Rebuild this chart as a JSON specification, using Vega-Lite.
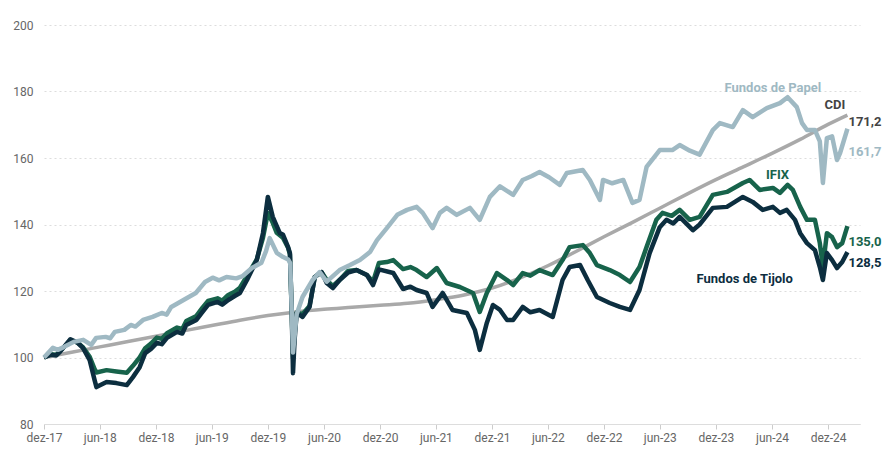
{
  "$schema": "https://vega.github.io/schema/vega-lite/v6.json",
  "width": 816,
  "height": 399,
  "autosize": {"type": "none"},
  "padding": {"left": 44, "top": 25, "right": 36, "bottom": 36},
  "background": "white",
  "config": {
    "view": {"stroke": null},
    "font": "Roboto"
  },
  "datasets": {
    "series": [
      {"d": "2017-12-01", "s": "CDI", "v": 100},
      {"d": "2018-03-01", "s": "CDI", "v": 101.6},
      {"d": "2018-06-01", "s": "CDI", "v": 103.2},
      {"d": "2018-09-01", "s": "CDI", "v": 104.8},
      {"d": "2018-12-01", "s": "CDI", "v": 106.4},
      {"d": "2019-03-01", "s": "CDI", "v": 108.0},
      {"d": "2019-06-01", "s": "CDI", "v": 109.6},
      {"d": "2019-09-01", "s": "CDI", "v": 111.2},
      {"d": "2019-12-01", "s": "CDI", "v": 112.6},
      {"d": "2020-03-01", "s": "CDI", "v": 113.7},
      {"d": "2020-06-01", "s": "CDI", "v": 114.5},
      {"d": "2020-09-01", "s": "CDI", "v": 115.1},
      {"d": "2020-12-01", "s": "CDI", "v": 115.7},
      {"d": "2021-03-01", "s": "CDI", "v": 116.3},
      {"d": "2021-06-01", "s": "CDI", "v": 117.4},
      {"d": "2021-09-01", "s": "CDI", "v": 118.8},
      {"d": "2021-12-01", "s": "CDI", "v": 120.9},
      {"d": "2022-03-01", "s": "CDI", "v": 123.9},
      {"d": "2022-06-01", "s": "CDI", "v": 127.6},
      {"d": "2022-09-01", "s": "CDI", "v": 131.9},
      {"d": "2022-12-01", "s": "CDI", "v": 136.3},
      {"d": "2023-03-01", "s": "CDI", "v": 140.5},
      {"d": "2023-06-01", "s": "CDI", "v": 144.9},
      {"d": "2023-09-01", "s": "CDI", "v": 149.3},
      {"d": "2023-12-01", "s": "CDI", "v": 153.5},
      {"d": "2024-03-01", "s": "CDI", "v": 157.4},
      {"d": "2024-06-01", "s": "CDI", "v": 161.4},
      {"d": "2024-09-01", "s": "CDI", "v": 165.6},
      {"d": "2024-12-01", "s": "CDI", "v": 170.1},
      {"d": "2025-02-02", "s": "CDI", "v": 172.9},

      {"d": "2017-12-01", "s": "IFIX", "v": 100},
      {"d": "2017-12-22", "s": "IFIX", "v": 101},
      {"d": "2018-01-10", "s": "IFIX", "v": 100.8},
      {"d": "2018-01-22", "s": "IFIX", "v": 101.9},
      {"d": "2018-02-25", "s": "IFIX", "v": 105.2},
      {"d": "2018-03-20", "s": "IFIX", "v": 104.5},
      {"d": "2018-04-06", "s": "IFIX", "v": 103.2},
      {"d": "2018-04-29", "s": "IFIX", "v": 100.2},
      {"d": "2018-05-15", "s": "IFIX", "v": 96.5},
      {"d": "2018-05-21", "s": "IFIX", "v": 95.5},
      {"d": "2018-06-23", "s": "IFIX", "v": 96.2},
      {"d": "2018-07-25", "s": "IFIX", "v": 95.8},
      {"d": "2018-08-28", "s": "IFIX", "v": 95.4},
      {"d": "2018-09-17", "s": "IFIX", "v": 97.5},
      {"d": "2018-10-09", "s": "IFIX", "v": 100},
      {"d": "2018-10-27", "s": "IFIX", "v": 102.8},
      {"d": "2018-11-15", "s": "IFIX", "v": 104.2},
      {"d": "2018-12-04", "s": "IFIX", "v": 106},
      {"d": "2018-12-20", "s": "IFIX", "v": 105.6},
      {"d": "2019-01-06", "s": "IFIX", "v": 107.3},
      {"d": "2019-02-08", "s": "IFIX", "v": 109},
      {"d": "2019-02-25", "s": "IFIX", "v": 108.6},
      {"d": "2019-03-10", "s": "IFIX", "v": 111},
      {"d": "2019-04-12", "s": "IFIX", "v": 112.5},
      {"d": "2019-05-02", "s": "IFIX", "v": 115},
      {"d": "2019-05-20", "s": "IFIX", "v": 117},
      {"d": "2019-06-20", "s": "IFIX", "v": 117.8},
      {"d": "2019-07-05", "s": "IFIX", "v": 117.1},
      {"d": "2019-07-25", "s": "IFIX", "v": 118.8},
      {"d": "2019-08-15", "s": "IFIX", "v": 119.8},
      {"d": "2019-09-01", "s": "IFIX", "v": 121},
      {"d": "2019-09-24", "s": "IFIX", "v": 124.5},
      {"d": "2019-10-26", "s": "IFIX", "v": 129.5},
      {"d": "2019-11-15", "s": "IFIX", "v": 136},
      {"d": "2019-12-01", "s": "IFIX", "v": 143.5},
      {"d": "2019-12-17", "s": "IFIX", "v": 140.5},
      {"d": "2019-12-30", "s": "IFIX", "v": 137.5},
      {"d": "2020-01-19", "s": "IFIX", "v": 136},
      {"d": "2020-02-05", "s": "IFIX", "v": 133},
      {"d": "2020-02-11", "s": "IFIX", "v": 131},
      {"d": "2020-02-17", "s": "IFIX", "v": 113},
      {"d": "2020-02-21", "s": "IFIX", "v": 100},
      {"d": "2020-02-26", "s": "IFIX", "v": 107},
      {"d": "2020-03-04", "s": "IFIX", "v": 113.5},
      {"d": "2020-03-23", "s": "IFIX", "v": 113},
      {"d": "2020-04-15", "s": "IFIX", "v": 115.5},
      {"d": "2020-05-02", "s": "IFIX", "v": 124.2},
      {"d": "2020-05-24", "s": "IFIX", "v": 125.7},
      {"d": "2020-06-10", "s": "IFIX", "v": 123.3},
      {"d": "2020-06-30", "s": "IFIX", "v": 121.5},
      {"d": "2020-07-22", "s": "IFIX", "v": 123.3},
      {"d": "2020-08-18", "s": "IFIX", "v": 126},
      {"d": "2020-09-15", "s": "IFIX", "v": 126.3},
      {"d": "2020-10-19", "s": "IFIX", "v": 124.8},
      {"d": "2020-11-08", "s": "IFIX", "v": 122.8},
      {"d": "2020-11-27", "s": "IFIX", "v": 128.4},
      {"d": "2020-12-23", "s": "IFIX", "v": 128.7},
      {"d": "2021-01-13", "s": "IFIX", "v": 129.3},
      {"d": "2021-02-14", "s": "IFIX", "v": 126.6},
      {"d": "2021-03-10", "s": "IFIX", "v": 127.2},
      {"d": "2021-03-30", "s": "IFIX", "v": 126.3},
      {"d": "2021-05-02", "s": "IFIX", "v": 124.2},
      {"d": "2021-06-04", "s": "IFIX", "v": 126.9},
      {"d": "2021-07-06", "s": "IFIX", "v": 122.4},
      {"d": "2021-08-18", "s": "IFIX", "v": 121.2},
      {"d": "2021-09-30", "s": "IFIX", "v": 119.4},
      {"d": "2021-10-22", "s": "IFIX", "v": 113.7},
      {"d": "2021-11-14", "s": "IFIX", "v": 119.4},
      {"d": "2021-12-17", "s": "IFIX", "v": 125.4},
      {"d": "2022-01-19", "s": "IFIX", "v": 123.3},
      {"d": "2022-02-08", "s": "IFIX", "v": 121.8},
      {"d": "2022-03-11", "s": "IFIX", "v": 125.4},
      {"d": "2022-04-05", "s": "IFIX", "v": 124.6},
      {"d": "2022-05-05", "s": "IFIX", "v": 126.3},
      {"d": "2022-06-17", "s": "IFIX", "v": 124.8},
      {"d": "2022-07-19", "s": "IFIX", "v": 129.3},
      {"d": "2022-08-11", "s": "IFIX", "v": 133.2},
      {"d": "2022-09-23", "s": "IFIX", "v": 133.8},
      {"d": "2022-10-16", "s": "IFIX", "v": 131.4},
      {"d": "2022-11-08", "s": "IFIX", "v": 127.8},
      {"d": "2022-12-20", "s": "IFIX", "v": 126.3},
      {"d": "2023-01-22", "s": "IFIX", "v": 124.8},
      {"d": "2023-02-24", "s": "IFIX", "v": 122.7},
      {"d": "2023-03-27", "s": "IFIX", "v": 127.2},
      {"d": "2023-04-19", "s": "IFIX", "v": 133.2},
      {"d": "2023-05-21", "s": "IFIX", "v": 141.4},
      {"d": "2023-06-10", "s": "IFIX", "v": 143.5},
      {"d": "2023-07-10", "s": "IFIX", "v": 142.6},
      {"d": "2023-08-05", "s": "IFIX", "v": 144.4},
      {"d": "2023-09-07", "s": "IFIX", "v": 141.4},
      {"d": "2023-10-09", "s": "IFIX", "v": 142.3},
      {"d": "2023-11-21", "s": "IFIX", "v": 148.9},
      {"d": "2024-01-06", "s": "IFIX", "v": 149.8},
      {"d": "2024-02-27", "s": "IFIX", "v": 152.5},
      {"d": "2024-03-20", "s": "IFIX", "v": 153.4},
      {"d": "2024-04-22", "s": "IFIX", "v": 150.4},
      {"d": "2024-06-04", "s": "IFIX", "v": 151},
      {"d": "2024-06-27", "s": "IFIX", "v": 149.5},
      {"d": "2024-07-22", "s": "IFIX", "v": 151.9},
      {"d": "2024-08-08", "s": "IFIX", "v": 150.4},
      {"d": "2024-09-01", "s": "IFIX", "v": 145.3},
      {"d": "2024-09-23", "s": "IFIX", "v": 141.4},
      {"d": "2024-10-19", "s": "IFIX", "v": 141.4},
      {"d": "2024-11-04", "s": "IFIX", "v": 134.4},
      {"d": "2024-11-14", "s": "IFIX", "v": 127.2},
      {"d": "2024-11-27", "s": "IFIX", "v": 137.4},
      {"d": "2024-12-14", "s": "IFIX", "v": 136.2},
      {"d": "2024-12-30", "s": "IFIX", "v": 133.2},
      {"d": "2025-01-16", "s": "IFIX", "v": 134.4},
      {"d": "2025-02-02", "s": "IFIX", "v": 139.5},

      {"d": "2017-12-01", "s": "Tijolo", "v": 100},
      {"d": "2017-12-22", "s": "Tijolo", "v": 100.8},
      {"d": "2018-01-10", "s": "Tijolo", "v": 100.6},
      {"d": "2018-01-22", "s": "Tijolo", "v": 101.7},
      {"d": "2018-02-25", "s": "Tijolo", "v": 105.5},
      {"d": "2018-03-20", "s": "Tijolo", "v": 104.5},
      {"d": "2018-04-06", "s": "Tijolo", "v": 103},
      {"d": "2018-04-29", "s": "Tijolo", "v": 99.2},
      {"d": "2018-05-15", "s": "Tijolo", "v": 93.2},
      {"d": "2018-05-21", "s": "Tijolo", "v": 91.1},
      {"d": "2018-06-23", "s": "Tijolo", "v": 92.6},
      {"d": "2018-07-25", "s": "Tijolo", "v": 92.3},
      {"d": "2018-08-28", "s": "Tijolo", "v": 91.7},
      {"d": "2018-09-17", "s": "Tijolo", "v": 94.1},
      {"d": "2018-10-09", "s": "Tijolo", "v": 97.1},
      {"d": "2018-10-27", "s": "Tijolo", "v": 101.3},
      {"d": "2018-11-15", "s": "Tijolo", "v": 102.6},
      {"d": "2018-12-04", "s": "Tijolo", "v": 104.4},
      {"d": "2018-12-20", "s": "Tijolo", "v": 104},
      {"d": "2019-01-06", "s": "Tijolo", "v": 105.9},
      {"d": "2019-02-08", "s": "Tijolo", "v": 107.7},
      {"d": "2019-02-25", "s": "Tijolo", "v": 107.2},
      {"d": "2019-03-10", "s": "Tijolo", "v": 109.8},
      {"d": "2019-04-12", "s": "Tijolo", "v": 111.3},
      {"d": "2019-05-02", "s": "Tijolo", "v": 113.7},
      {"d": "2019-05-20", "s": "Tijolo", "v": 115.8},
      {"d": "2019-06-20", "s": "Tijolo", "v": 116.7},
      {"d": "2019-07-05", "s": "Tijolo", "v": 115.9},
      {"d": "2019-07-25", "s": "Tijolo", "v": 117.3},
      {"d": "2019-08-15", "s": "Tijolo", "v": 118.5},
      {"d": "2019-09-01", "s": "Tijolo", "v": 119.4},
      {"d": "2019-09-24", "s": "Tijolo", "v": 123.3},
      {"d": "2019-10-26", "s": "Tijolo", "v": 129.3},
      {"d": "2019-11-15", "s": "Tijolo", "v": 137.4},
      {"d": "2019-12-01", "s": "Tijolo", "v": 148.3},
      {"d": "2019-12-17", "s": "Tijolo", "v": 142.3},
      {"d": "2020-01-09", "s": "Tijolo", "v": 137.4},
      {"d": "2020-01-19", "s": "Tijolo", "v": 137},
      {"d": "2020-02-05", "s": "Tijolo", "v": 133.2},
      {"d": "2020-02-11", "s": "Tijolo", "v": 131.4},
      {"d": "2020-02-17", "s": "Tijolo", "v": 113.4},
      {"d": "2020-02-21", "s": "Tijolo", "v": 95.3},
      {"d": "2020-02-26", "s": "Tijolo", "v": 105},
      {"d": "2020-03-04", "s": "Tijolo", "v": 113.4},
      {"d": "2020-03-23", "s": "Tijolo", "v": 112.2},
      {"d": "2020-04-15", "s": "Tijolo", "v": 115.2},
      {"d": "2020-05-02", "s": "Tijolo", "v": 124.2},
      {"d": "2020-05-24", "s": "Tijolo", "v": 125.7},
      {"d": "2020-06-10", "s": "Tijolo", "v": 122.4},
      {"d": "2020-06-30", "s": "Tijolo", "v": 120.9},
      {"d": "2020-07-22", "s": "Tijolo", "v": 123.3},
      {"d": "2020-08-18", "s": "Tijolo", "v": 125.5},
      {"d": "2020-09-15", "s": "Tijolo", "v": 126.3},
      {"d": "2020-10-19", "s": "Tijolo", "v": 124.8},
      {"d": "2020-11-08", "s": "Tijolo", "v": 121.8},
      {"d": "2020-11-27", "s": "Tijolo", "v": 126.5},
      {"d": "2021-01-13", "s": "Tijolo", "v": 125.4},
      {"d": "2021-02-14", "s": "Tijolo", "v": 120.6},
      {"d": "2021-03-10", "s": "Tijolo", "v": 121.3},
      {"d": "2021-03-30", "s": "Tijolo", "v": 120.3},
      {"d": "2021-05-02", "s": "Tijolo", "v": 119.4},
      {"d": "2021-05-21", "s": "Tijolo", "v": 115.2},
      {"d": "2021-06-23", "s": "Tijolo", "v": 119.4},
      {"d": "2021-07-25", "s": "Tijolo", "v": 114.3},
      {"d": "2021-09-10", "s": "Tijolo", "v": 113.4},
      {"d": "2021-10-06", "s": "Tijolo", "v": 108.3},
      {"d": "2021-10-22", "s": "Tijolo", "v": 102.3},
      {"d": "2021-11-14", "s": "Tijolo", "v": 110.4},
      {"d": "2021-12-04", "s": "Tijolo", "v": 115.8},
      {"d": "2021-12-27", "s": "Tijolo", "v": 114.3},
      {"d": "2022-01-19", "s": "Tijolo", "v": 111.3},
      {"d": "2022-02-08", "s": "Tijolo", "v": 111.3},
      {"d": "2022-03-11", "s": "Tijolo", "v": 115.2},
      {"d": "2022-04-05", "s": "Tijolo", "v": 113.6},
      {"d": "2022-05-05", "s": "Tijolo", "v": 114.3},
      {"d": "2022-06-17", "s": "Tijolo", "v": 112.2},
      {"d": "2022-07-19", "s": "Tijolo", "v": 123.3},
      {"d": "2022-08-11", "s": "Tijolo", "v": 127.2},
      {"d": "2022-09-14", "s": "Tijolo", "v": 127.8},
      {"d": "2022-10-09", "s": "Tijolo", "v": 123.3},
      {"d": "2022-11-08", "s": "Tijolo", "v": 118.2},
      {"d": "2022-12-20", "s": "Tijolo", "v": 116.4},
      {"d": "2023-01-22", "s": "Tijolo", "v": 115.2},
      {"d": "2023-02-24", "s": "Tijolo", "v": 114.3},
      {"d": "2023-03-27", "s": "Tijolo", "v": 120.3},
      {"d": "2023-04-29", "s": "Tijolo", "v": 131.4},
      {"d": "2023-06-01", "s": "Tijolo", "v": 139.2},
      {"d": "2023-06-23", "s": "Tijolo", "v": 141.4},
      {"d": "2023-07-15", "s": "Tijolo", "v": 140.3},
      {"d": "2023-08-05", "s": "Tijolo", "v": 142.3},
      {"d": "2023-09-17", "s": "Tijolo", "v": 138.3},
      {"d": "2023-10-09", "s": "Tijolo", "v": 140},
      {"d": "2023-11-21", "s": "Tijolo", "v": 145},
      {"d": "2024-01-06", "s": "Tijolo", "v": 145.3},
      {"d": "2024-02-27", "s": "Tijolo", "v": 148.3},
      {"d": "2024-03-30", "s": "Tijolo", "v": 146.8},
      {"d": "2024-05-02", "s": "Tijolo", "v": 144.4},
      {"d": "2024-06-04", "s": "Tijolo", "v": 145.3},
      {"d": "2024-06-27", "s": "Tijolo", "v": 143.5},
      {"d": "2024-07-19", "s": "Tijolo", "v": 144.4},
      {"d": "2024-08-15", "s": "Tijolo", "v": 141.4},
      {"d": "2024-09-01", "s": "Tijolo", "v": 137.4},
      {"d": "2024-09-23", "s": "Tijolo", "v": 134.4},
      {"d": "2024-10-19", "s": "Tijolo", "v": 132.3},
      {"d": "2024-11-04", "s": "Tijolo", "v": 127.2},
      {"d": "2024-11-14", "s": "Tijolo", "v": 123.3},
      {"d": "2024-11-27", "s": "Tijolo", "v": 131.4},
      {"d": "2024-12-14", "s": "Tijolo", "v": 129.3},
      {"d": "2024-12-30", "s": "Tijolo", "v": 126.9},
      {"d": "2025-01-16", "s": "Tijolo", "v": 128.7},
      {"d": "2025-02-02", "s": "Tijolo", "v": 131.7},

      {"d": "2017-12-01", "s": "Papel", "v": 100},
      {"d": "2017-12-30", "s": "Papel", "v": 102.9},
      {"d": "2018-01-15", "s": "Papel", "v": 102.3},
      {"d": "2018-02-05", "s": "Papel", "v": 103.2},
      {"d": "2018-03-08", "s": "Papel", "v": 104.7},
      {"d": "2018-04-08", "s": "Papel", "v": 105.3},
      {"d": "2018-05-04", "s": "Papel", "v": 103.8},
      {"d": "2018-05-20", "s": "Papel", "v": 105.9},
      {"d": "2018-06-20", "s": "Papel", "v": 106.2},
      {"d": "2018-07-05", "s": "Papel", "v": 105.8},
      {"d": "2018-07-20", "s": "Papel", "v": 107.7},
      {"d": "2018-08-20", "s": "Papel", "v": 108.3},
      {"d": "2018-09-10", "s": "Papel", "v": 109.8},
      {"d": "2018-09-25", "s": "Papel", "v": 109.3},
      {"d": "2018-10-20", "s": "Papel", "v": 111.3},
      {"d": "2018-11-20", "s": "Papel", "v": 112.2},
      {"d": "2018-12-20", "s": "Papel", "v": 113.4},
      {"d": "2019-01-05", "s": "Papel", "v": 112.9},
      {"d": "2019-01-20", "s": "Papel", "v": 115.2},
      {"d": "2019-03-01", "s": "Papel", "v": 117.3},
      {"d": "2019-04-10", "s": "Papel", "v": 119.4},
      {"d": "2019-05-10", "s": "Papel", "v": 122.7},
      {"d": "2019-06-04", "s": "Papel", "v": 124},
      {"d": "2019-06-25", "s": "Papel", "v": 123.2},
      {"d": "2019-07-19", "s": "Papel", "v": 124.2},
      {"d": "2019-08-20", "s": "Papel", "v": 123.8},
      {"d": "2019-09-10", "s": "Papel", "v": 124.5},
      {"d": "2019-10-10", "s": "Papel", "v": 126.9},
      {"d": "2019-11-10", "s": "Papel", "v": 128.5},
      {"d": "2019-11-25", "s": "Papel", "v": 132},
      {"d": "2019-12-07", "s": "Papel", "v": 135.9},
      {"d": "2019-12-30", "s": "Papel", "v": 131.5},
      {"d": "2020-01-20", "s": "Papel", "v": 130.2},
      {"d": "2020-02-05", "s": "Papel", "v": 129.5},
      {"d": "2020-02-12", "s": "Papel", "v": 128.4},
      {"d": "2020-02-21", "s": "Papel", "v": 101.5},
      {"d": "2020-03-04", "s": "Papel", "v": 113},
      {"d": "2020-03-23", "s": "Papel", "v": 118.2},
      {"d": "2020-04-25", "s": "Papel", "v": 123.3},
      {"d": "2020-05-18", "s": "Papel", "v": 125.7},
      {"d": "2020-06-10", "s": "Papel", "v": 122.8},
      {"d": "2020-07-22", "s": "Papel", "v": 126.3},
      {"d": "2020-08-25", "s": "Papel", "v": 127.8},
      {"d": "2020-09-26", "s": "Papel", "v": 129.3},
      {"d": "2020-10-29", "s": "Papel", "v": 131.7},
      {"d": "2020-11-21", "s": "Papel", "v": 135.3},
      {"d": "2020-12-23", "s": "Papel", "v": 138.9},
      {"d": "2021-01-26", "s": "Papel", "v": 142.9},
      {"d": "2021-02-27", "s": "Papel", "v": 144.4},
      {"d": "2021-03-30", "s": "Papel", "v": 145.3},
      {"d": "2021-04-19", "s": "Papel", "v": 143.5},
      {"d": "2021-05-21", "s": "Papel", "v": 138.9},
      {"d": "2021-06-14", "s": "Papel", "v": 143.5},
      {"d": "2021-07-06", "s": "Papel", "v": 145},
      {"d": "2021-08-08", "s": "Papel", "v": 142.9},
      {"d": "2021-09-20", "s": "Papel", "v": 145},
      {"d": "2021-10-22", "s": "Papel", "v": 141.4},
      {"d": "2021-11-24", "s": "Papel", "v": 148.3},
      {"d": "2021-12-27", "s": "Papel", "v": 151.5},
      {"d": "2022-02-08", "s": "Papel", "v": 148.9},
      {"d": "2022-03-11", "s": "Papel", "v": 153.4},
      {"d": "2022-04-10", "s": "Papel", "v": 154.6},
      {"d": "2022-05-05", "s": "Papel", "v": 155.8},
      {"d": "2022-06-05", "s": "Papel", "v": 154.2},
      {"d": "2022-07-10", "s": "Papel", "v": 151.9},
      {"d": "2022-08-02", "s": "Papel", "v": 155.5},
      {"d": "2022-09-23", "s": "Papel", "v": 156.4},
      {"d": "2022-10-16", "s": "Papel", "v": 153.4},
      {"d": "2022-11-18", "s": "Papel", "v": 147.4},
      {"d": "2022-11-28", "s": "Papel", "v": 153.4},
      {"d": "2022-12-28", "s": "Papel", "v": 152.4},
      {"d": "2023-02-02", "s": "Papel", "v": 153.4},
      {"d": "2023-03-04", "s": "Papel", "v": 146.5},
      {"d": "2023-03-27", "s": "Papel", "v": 147.4},
      {"d": "2023-04-19", "s": "Papel", "v": 157.3},
      {"d": "2023-06-01", "s": "Papel", "v": 162.4},
      {"d": "2023-07-12", "s": "Papel", "v": 162.4},
      {"d": "2023-08-05", "s": "Papel", "v": 163.9},
      {"d": "2023-09-07", "s": "Papel", "v": 162.2},
      {"d": "2023-10-09", "s": "Papel", "v": 161},
      {"d": "2023-11-21", "s": "Papel", "v": 168.4},
      {"d": "2023-12-14", "s": "Papel", "v": 170.5},
      {"d": "2024-01-25", "s": "Papel", "v": 169.3},
      {"d": "2024-02-27", "s": "Papel", "v": 174.4},
      {"d": "2024-03-30", "s": "Papel", "v": 172.3},
      {"d": "2024-05-15", "s": "Papel", "v": 175},
      {"d": "2024-06-27", "s": "Papel", "v": 176.5},
      {"d": "2024-07-22", "s": "Papel", "v": 178.3},
      {"d": "2024-08-21", "s": "Papel", "v": 175.3},
      {"d": "2024-09-07", "s": "Papel", "v": 170.5},
      {"d": "2024-09-23", "s": "Papel", "v": 168.4},
      {"d": "2024-10-19", "s": "Papel", "v": 168.4},
      {"d": "2024-11-04", "s": "Papel", "v": 165},
      {"d": "2024-11-14", "s": "Papel", "v": 152.5},
      {"d": "2024-11-27", "s": "Papel", "v": 166},
      {"d": "2024-12-14", "s": "Papel", "v": 166.5},
      {"d": "2024-12-30", "s": "Papel", "v": 159.4},
      {"d": "2025-01-09", "s": "Papel", "v": 161.5},
      {"d": "2025-02-02", "s": "Papel", "v": 168.8}
    ],
    "names": [
      {"d": "2024-06-04", "v": 181.1, "t": "Fundos de Papel", "s": "Papel"},
      {"d": "2024-12-23", "v": 175.9, "t": "CDI", "s": "CDI"},
      {"d": "2024-06-19", "v": 154.9, "t": "IFIX", "s": "IFIX"},
      {"d": "2024-03-04", "v": 123.6, "t": "Fundos de Tijolo", "s": "Tijolo"}
    ],
    "ends": [
      {"d": "2025-02-02", "v": 170.8, "t": "171,2", "s": "CDI"},
      {"d": "2025-02-02", "v": 161.8, "t": "161,7", "s": "Papel"},
      {"d": "2025-02-02", "v": 134.7, "t": "135,0", "s": "IFIX"},
      {"d": "2025-02-02", "v": 128.4, "t": "128,5", "s": "Tijolo"}
    ]
  },
  "encoding": {
    "x": {
      "field": "d",
      "type": "temporal",
      "scale": {
        "type": "utc",
        "domain": [
          {"year": 2017, "month": 12, "date": 1, "utc": true},
          {"year": 2025, "month": 3, "date": 15, "utc": true}
        ]
      },
      "axis": {
        "title": null,
        "values": [
          {"year": 2017, "month": 12, "date": 1, "utc": true},
          {"year": 2018, "month": 6, "date": 1, "utc": true},
          {"year": 2018, "month": 12, "date": 1, "utc": true},
          {"year": 2019, "month": 6, "date": 1, "utc": true},
          {"year": 2019, "month": 12, "date": 1, "utc": true},
          {"year": 2020, "month": 6, "date": 1, "utc": true},
          {"year": 2020, "month": 12, "date": 1, "utc": true},
          {"year": 2021, "month": 6, "date": 1, "utc": true},
          {"year": 2021, "month": 12, "date": 1, "utc": true},
          {"year": 2022, "month": 6, "date": 1, "utc": true},
          {"year": 2022, "month": 12, "date": 1, "utc": true},
          {"year": 2023, "month": 6, "date": 1, "utc": true},
          {"year": 2023, "month": 12, "date": 1, "utc": true},
          {"year": 2024, "month": 6, "date": 1, "utc": true},
          {"year": 2024, "month": 12, "date": 1, "utc": true}
        ],
        "labelExpr": "(utcmonth(datum.value) == 11 ? 'dez' : 'jun') + '-' + utcFormat(datum.value, '%y')",
        "grid": false,
        "domainColor": "#dddddd",
        "tickColor": "#cccccc",
        "tickSize": 5,
        "labelPadding": 3,
        "labelColor": "#666666",
        "labelFont": "Roboto",
        "labelFontSize": 12,
        "labelFlush": false,
        "labelOverlap": false
      }
    },
    "y": {
      "field": "v",
      "type": "quantitative",
      "scale": {"domain": [80, 200], "nice": false, "zero": false},
      "axis": {
        "title": null,
        "values": [80, 100, 120, 140, 160, 180, 200],
        "domain": false,
        "ticks": false,
        "grid": true,
        "gridColor": "#dddddd",
        "gridDash": [2, 3],
        "labelPadding": 11,
        "labelColor": "#666666",
        "labelFont": "Roboto",
        "labelFontSize": 12
      }
    }
  },
  "layer": [
    {
      "data": {"name": "series"},
      "transform": [{"filter": "datum.s == 'CDI'"}],
      "mark": {"type": "line", "color": "#a9a9a9", "strokeWidth": 3.5, "interpolate": "monotone"}
    },
    {
      "data": {"name": "series"},
      "transform": [{"filter": "datum.s == 'IFIX'"}],
      "mark": {"type": "line", "color": "#17634b", "strokeWidth": 4.5, "strokeJoin": "round"}
    },
    {
      "data": {"name": "series"},
      "transform": [{"filter": "datum.s == 'Tijolo'"}],
      "mark": {"type": "line", "color": "#0c2e3f", "strokeWidth": 4.5, "strokeJoin": "round"}
    },
    {
      "data": {"name": "series"},
      "transform": [{"filter": "datum.s == 'Papel'"}],
      "mark": {"type": "line", "color": "#9fb9c3", "strokeWidth": 4.5, "strokeJoin": "round"}
    },
    {
      "data": {"name": "names"},
      "mark": {"type": "text", "font": "Roboto", "fontWeight": "bold", "fontSize": 13, "align": "center", "baseline": "middle"},
      "encoding": {
        "text": {"field": "t"},
        "fill": {
          "field": "s",
          "type": "nominal",
          "scale": {"domain": ["CDI", "IFIX", "Tijolo", "Papel"], "range": ["#444444", "#17634b", "#0c2e3f", "#9fb9c3"]},
          "legend": null
        }
      }
    },
    {
      "data": {"name": "ends"},
      "mark": {"type": "text", "font": "Roboto", "fontWeight": "bold", "fontSize": 13, "align": "left", "baseline": "middle", "dx": 1},
      "encoding": {
        "text": {"field": "t"},
        "fill": {
          "field": "s",
          "type": "nominal",
          "scale": {"domain": ["CDI", "IFIX", "Tijolo", "Papel"], "range": ["#444444", "#17634b", "#0c2e3f", "#9fb9c3"]},
          "legend": null
        }
      }
    }
  ]
}
